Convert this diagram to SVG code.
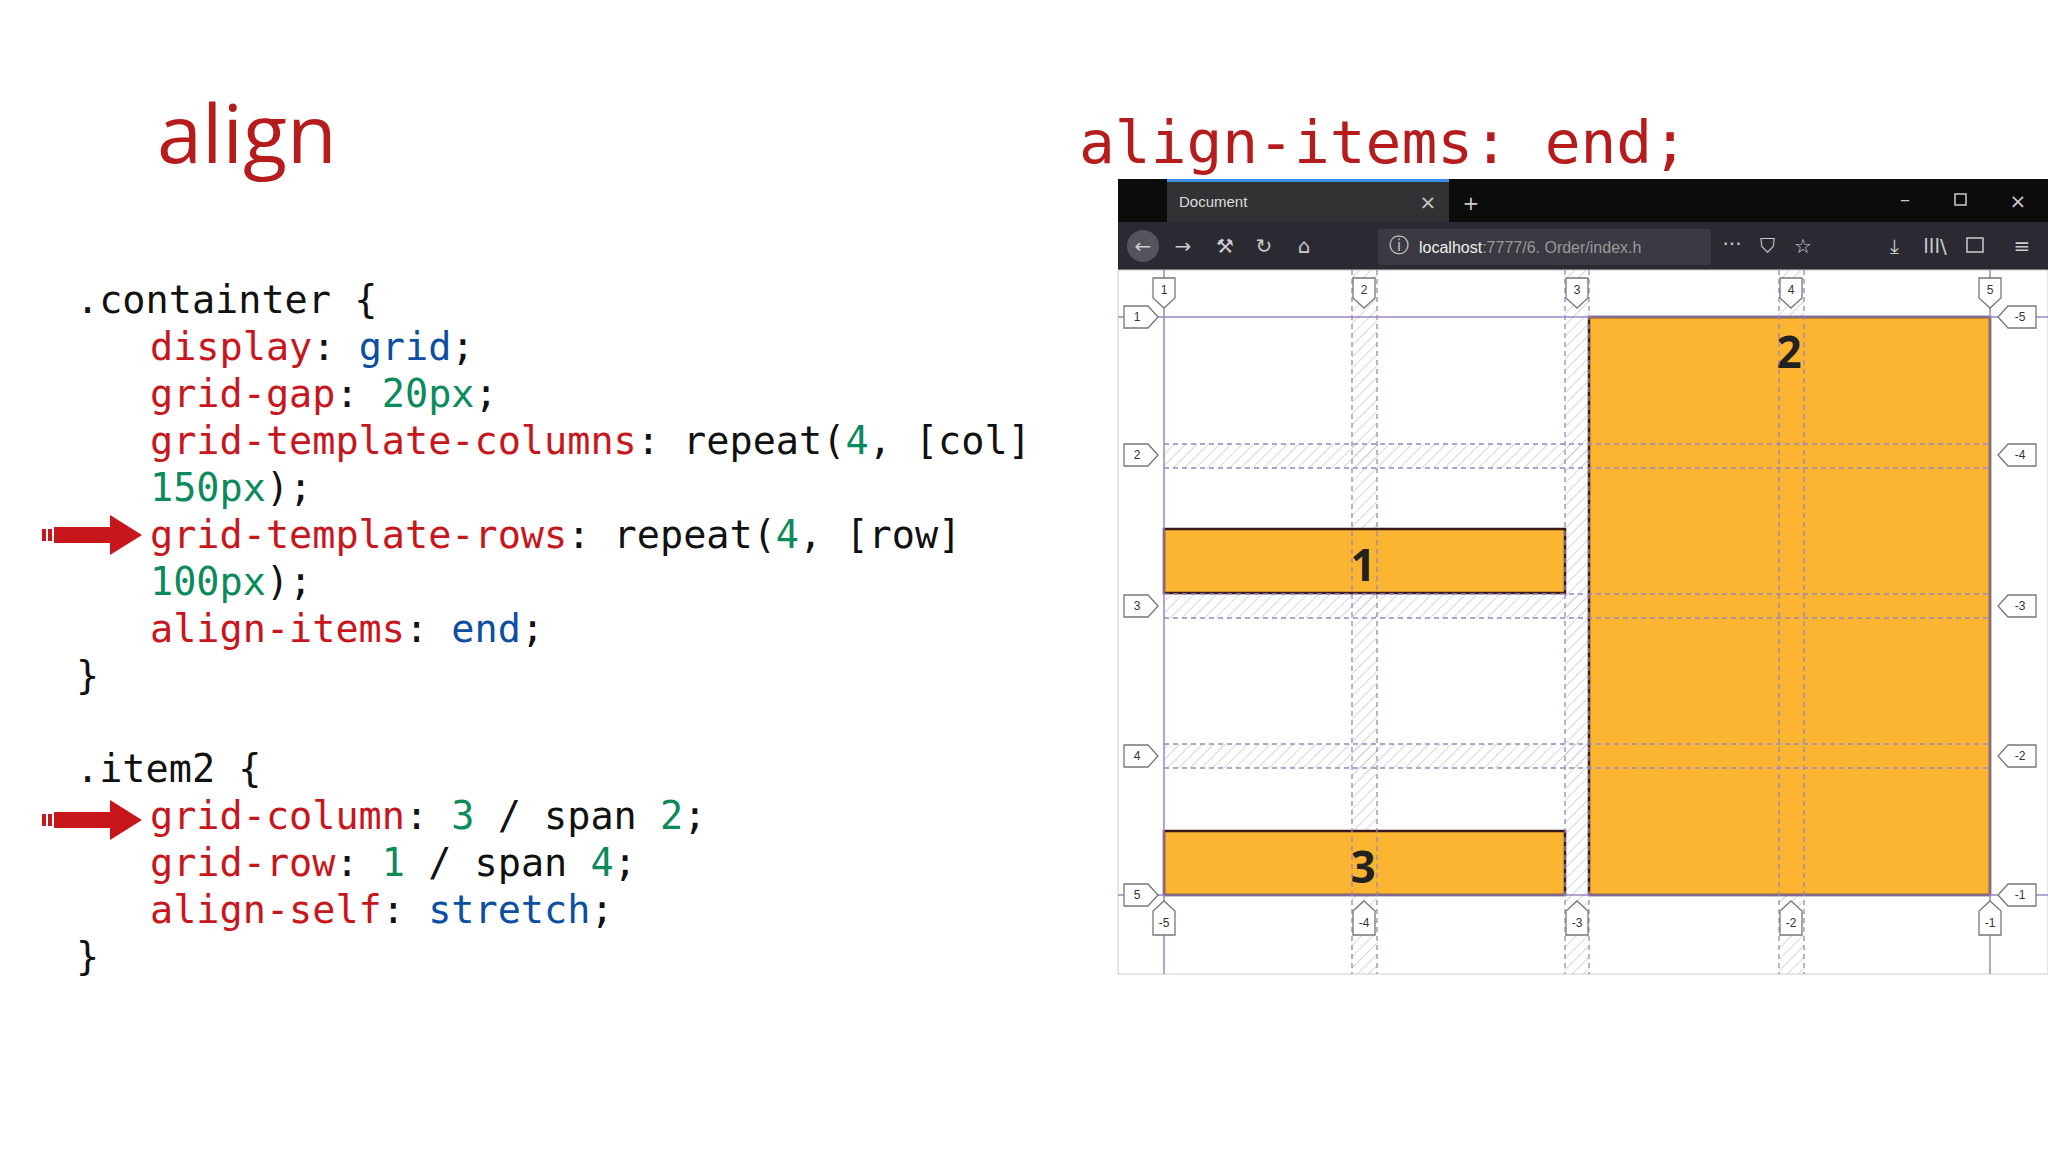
<svg xmlns="http://www.w3.org/2000/svg" width="2048" height="1152" viewBox="0 0 2048 1152">
<defs>
<style>
.code{font-family:"DejaVu Sans Mono","Liberation Mono",monospace;font-size:38.5px;fill:#111}
.r{fill:#c8161d}.g{fill:#0b8a5c}.b{fill:#0b4ea2}
.gl{stroke:#9a86c0;stroke-width:1.5;fill:none}
.gd{stroke:#9a86c0;stroke-width:1.3;stroke-dasharray:5 4;fill:none}
.badge{fill:#fff;stroke:#777;stroke-width:1.3}
.bt{font-family:"Liberation Sans",Arial,sans-serif;font-size:12px;fill:#333;text-anchor:middle}
.item{fill:#fbb531;stroke:#3a1a1a;stroke-width:2.5}
.num{font-family:"Open Sans","DejaVu Sans",sans-serif;font-weight:bold;font-size:44px;fill:#222;text-anchor:middle}
.tb{font-family:"DejaVu Sans",sans-serif;font-size:20px;fill:#ccc;text-anchor:middle}
</style>
<pattern id="hat" width="8" height="8" patternUnits="userSpaceOnUse" patternTransform="rotate(45)">
<line x1="0" y1="0" x2="0" y2="8" stroke="#c8c8d8" stroke-width="1.5"/>
</pattern>
</defs>
<rect width="2048" height="1152" fill="#fff"/>
<text x="157" y="163" font-family="'Open Sans','Noto Sans',sans-serif" font-size="81" fill="#b71c1c">align</text>
<text x="1079" y="163" font-family="'DejaVu Sans Mono','Liberation Mono',monospace" font-size="59.5" fill="#b71c1c">align-items: end;</text>

<g id="code">
<text class="code" x="76" y="313">.containter {</text>
<text class="code" x="150" y="360"><tspan class="r">display</tspan>: <tspan class="b">grid</tspan>;</text>
<text class="code" x="150" y="407"><tspan class="r">grid-gap</tspan>: <tspan class="g">20px</tspan>;</text>
<text class="code" x="150" y="454"><tspan class="r">grid-template-columns</tspan>: repeat(<tspan class="g">4</tspan>, [col]</text>
<text class="code" x="150" y="501"><tspan class="g">150px</tspan>);</text>
<text class="code" x="150" y="548"><tspan class="r">grid-template-rows</tspan>: repeat(<tspan class="g">4</tspan>, [row]</text>
<text class="code" x="150" y="595"><tspan class="g">100px</tspan>);</text>
<text class="code" x="150" y="642"><tspan class="r">align-items</tspan>: <tspan class="b">end</tspan>;</text>
<text class="code" x="76" y="689">}</text>
<text class="code" x="76" y="782">.item2 {</text>
<text class="code" x="150" y="829"><tspan class="r">grid-column</tspan>: <tspan class="g">3</tspan> / span <tspan class="g">2</tspan>;</text>
<text class="code" x="150" y="876"><tspan class="r">grid-row</tspan>: <tspan class="g">1</tspan> / span <tspan class="g">4</tspan>;</text>
<text class="code" x="150" y="923"><tspan class="r">align-self</tspan>: <tspan class="b">stretch</tspan>;</text>
<text class="code" x="76" y="970">}</text>
</g>

<g id="arrows">
<g fill="#c8161d">
<rect x="42" y="529" width="4" height="12"/><rect x="48" y="529" width="4" height="12"/><rect x="54" y="527" width="60" height="16"/>
<path d="M110,515 L142,535 L110,555z"/>
<rect x="42" y="814" width="4" height="12"/><rect x="48" y="814" width="4" height="12"/><rect x="54" y="812" width="60" height="16"/>
<path d="M110,800 L142,820 L110,840z"/>
</g>
</g>

<g id="browser">
<rect x="1118" y="179" width="930" height="43" fill="#0c0c0d"/>
<rect x="1167" y="179" width="282" height="43" fill="#323234"/>
<rect x="1167" y="179" width="282" height="3" fill="#3a8ee6"/>
<text x="1179" y="207" font-family="'Liberation Sans',Arial,sans-serif" font-size="15" fill="#ddd">Document</text>
<text x="1428" y="209" class="tb" font-size="18">×</text>
<text x="1471" y="210" class="tb" font-size="26">+</text>
<text x="1905" y="206" class="tb" font-size="18">–</text>
<rect x="1955" y="194" width="11" height="11" fill="none" stroke="#ccc" stroke-width="1.5"/>
<text x="2018" y="208" class="tb" font-size="20">×</text>
<rect x="1118" y="222" width="930" height="48" fill="#2b2a33"/>
<circle cx="1143" cy="246" r="16" fill="#55545c"/>
<text x="1143" y="253" class="tb">←</text>
<text x="1183" y="253" class="tb" fill="#888">→</text>
<text x="1225" y="253" class="tb">⚒</text>
<text x="1264" y="253" class="tb">↻</text>
<text x="1304" y="253" class="tb">⌂</text>
<rect x="1378" y="229" width="333" height="36" rx="3" fill="#3b3a42"/>
<text x="1399" y="252" class="tb" font-size="15">ⓘ</text>
<text x="1419" y="253" font-family="'Liberation Sans',Arial,sans-serif" font-size="16" fill="#eee">localhost<tspan fill="#999">:7777/6. Order/index.h</tspan></text>
<text x="1732" y="251" class="tb">···</text>
<text x="1767" y="253" class="tb">⛉</text>
<text x="1803" y="253" class="tb">☆</text>
<text x="1894" y="253" class="tb" fill="#45a1ff">⤓</text>
<text x="1935" y="253" class="tb">lll\</text>
<rect x="1967" y="238" width="16" height="14" fill="none" stroke="#ccc" stroke-width="1.5"/>
<text x="2022" y="253" class="tb">≡</text>
<rect x="1118" y="270" width="930" height="704" fill="#fff" stroke="#ccc"/>
</g>

<g id="grid">
<rect x="1352" y="270" width="25" height="704" fill="url(#hat)"/>
<rect x="1565" y="270" width="24" height="704" fill="url(#hat)"/>
<rect x="1779" y="270" width="25" height="704" fill="url(#hat)"/>
<rect x="1164" y="444" width="826" height="24" fill="url(#hat)"/>
<rect x="1164" y="594" width="826" height="24" fill="url(#hat)"/>
<rect x="1164" y="744" width="826" height="24" fill="url(#hat)"/>
</g>

<g id="item2"><rect class="item" x="1589" y="317" width="401" height="578"/><text class="num" x="1789" y="368">2</text></g>
<g id="item1"><rect class="item" x="1164" y="529" width="401" height="64"/><text class="num" x="1363" y="581">1</text></g>
<g id="item3"><rect class="item" x="1164" y="831" width="401" height="64"/><text class="num" x="1363" y="883">3</text></g>

<g id="gridlines">
<line class="gl" x1="1164" y1="270" x2="1164" y2="974"/>
<line class="gl" x1="1990" y1="270" x2="1990" y2="974"/>
<line class="gl" x1="1118" y1="317" x2="2048" y2="317"/>
<line class="gl" x1="1118" y1="895" x2="2048" y2="895"/>
<line class="gd" x1="1352" y1="270" x2="1352" y2="974"/><line class="gd" x1="1377" y1="270" x2="1377" y2="974"/>
<line class="gd" x1="1565" y1="270" x2="1565" y2="974"/><line class="gd" x1="1589" y1="270" x2="1589" y2="974"/>
<line class="gd" x1="1779" y1="270" x2="1779" y2="974"/><line class="gd" x1="1804" y1="270" x2="1804" y2="974"/>
<line class="gd" x1="1164" y1="444" x2="1990" y2="444"/><line class="gd" x1="1164" y1="468" x2="1990" y2="468"/>
<line class="gd" x1="1164" y1="594" x2="1990" y2="594"/><line class="gd" x1="1164" y1="618" x2="1990" y2="618"/>
<line class="gd" x1="1164" y1="744" x2="1990" y2="744"/><line class="gd" x1="1164" y1="768" x2="1990" y2="768"/>
</g>

<g id="badges">
<g><path class="badge" d="M1153,278h22v20l-11,10l-11,-10z"/><text class="bt" x="1164" y="294">1</text></g>
<g><path class="badge" d="M1353,278h22v20l-11,10l-11,-10z"/><text class="bt" x="1364" y="294">2</text></g>
<g><path class="badge" d="M1566,278h22v20l-11,10l-11,-10z"/><text class="bt" x="1577" y="294">3</text></g>
<g><path class="badge" d="M1780,278h22v20l-11,10l-11,-10z"/><text class="bt" x="1791" y="294">4</text></g>
<g><path class="badge" d="M1979,278h22v20l-11,10l-11,-10z"/><text class="bt" x="1990" y="294">5</text></g>
<g><path class="badge" d="M1153,935h22v-24l-11,-10l-11,10z"/><text class="bt" x="1164" y="927">-5</text></g>
<g><path class="badge" d="M1353,935h22v-24l-11,-10l-11,10z"/><text class="bt" x="1364" y="927">-4</text></g>
<g><path class="badge" d="M1566,935h22v-24l-11,-10l-11,10z"/><text class="bt" x="1577" y="927">-3</text></g>
<g><path class="badge" d="M1780,935h22v-24l-11,-10l-11,10z"/><text class="bt" x="1791" y="927">-2</text></g>
<g><path class="badge" d="M1979,935h22v-24l-11,-10l-11,10z"/><text class="bt" x="1990" y="927">-1</text></g>
<g><path class="badge" d="M1124,306h24l10,11l-10,11h-24z"/><text class="bt" x="1137" y="321">1</text></g>
<g><path class="badge" d="M1124,444h24l10,11l-10,11h-24z"/><text class="bt" x="1137" y="459">2</text></g>
<g><path class="badge" d="M1124,595h24l10,11l-10,11h-24z"/><text class="bt" x="1137" y="610">3</text></g>
<g><path class="badge" d="M1124,745h24l10,11l-10,11h-24z"/><text class="bt" x="1137" y="760">4</text></g>
<g><path class="badge" d="M1124,884h24l10,11l-10,11h-24z"/><text class="bt" x="1137" y="899">5</text></g>
<g><path class="badge" d="M2036,306h-28l-10,11l10,11h28z"/><text class="bt" x="2020" y="321">-5</text></g>
<g><path class="badge" d="M2036,444h-28l-10,11l10,11h28z"/><text class="bt" x="2020" y="459">-4</text></g>
<g><path class="badge" d="M2036,595h-28l-10,11l10,11h28z"/><text class="bt" x="2020" y="610">-3</text></g>
<g><path class="badge" d="M2036,745h-28l-10,11l10,11h28z"/><text class="bt" x="2020" y="760">-2</text></g>
<g><path class="badge" d="M2036,884h-28l-10,11l10,11h28z"/><text class="bt" x="2020" y="899">-1</text></g>
</g>
</svg>
